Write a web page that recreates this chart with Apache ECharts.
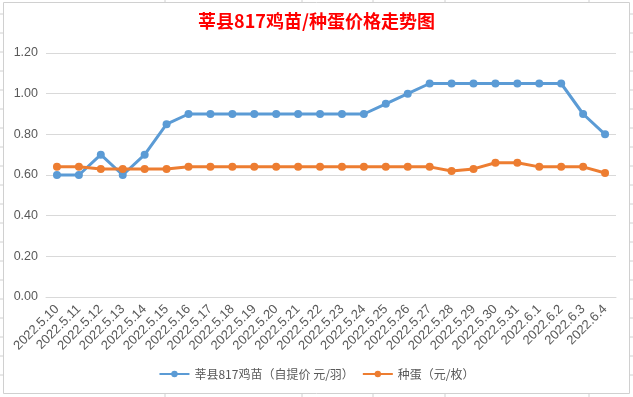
<!DOCTYPE html>
<html><head><meta charset="utf-8">
<script src="https://cdn.jsdelivr.net/npm/echarts@6/dist/echarts.min.js"></script>
<style>html,body{margin:0;padding:0;background:#fff}#c{width:633px;height:397px}</style>
</head><body><div id="c"></div>
<script>
const categories = ['2022.5.10','2022.5.11','2022.5.12','2022.5.13','2022.5.14','2022.5.15','2022.5.16','2022.5.17','2022.5.18','2022.5.19','2022.5.20','2022.5.21','2022.5.22','2022.5.23','2022.5.24','2022.5.25','2022.5.26','2022.5.27','2022.5.28','2022.5.29','2022.5.30','2022.5.31','2022.6.1','2022.6.2','2022.6.3','2022.6.4'];
const chickPrice = [0.60,0.60,0.70,0.60,0.70,0.85,0.90,0.90,0.90,0.90,0.90,0.90,0.90,0.90,0.90,0.95,1.00,1.05,1.05,1.05,1.05,1.05,1.05,1.05,0.90,0.80];
const eggPrice = [0.64,0.64,0.63,0.63,0.63,0.63,0.64,0.64,0.64,0.64,0.64,0.64,0.64,0.64,0.64,0.64,0.64,0.64,0.62,0.63,0.66,0.66,0.64,0.64,0.64,0.61];
const seriesNames = ['莘县817鸡苗（自提价 元/羽）','种蛋（元/枚）'];
const titleText = '莘县817鸡苗/种蛋价格走势图';

const chart = echarts.init(document.getElementById('c'));
const stubs = [];
const sc = '#d0d0d0';
[14,33,52,71,90,109,128,147,166,185,204,223,242,261,280,299,318,337,356,375].forEach(y=>{
  stubs.push({type:'line',shape:{x1:0,y1:y,x2:3,y2:y},style:{stroke:sc,lineWidth:1}});
  stubs.push({type:'line',shape:{x1:630,y1:y,x2:633,y2:y},style:{stroke:sc,lineWidth:1}});
});
[165,302,373,445,589].forEach(x=>{
  stubs.push({type:'line',shape:{x1:x,y1:0,x2:x,y2:2},style:{stroke:sc,lineWidth:1}});
  stubs.push({type:'line',shape:{x1:x,y1:394,x2:x,y2:397},style:{stroke:sc,lineWidth:1}});
});
stubs.push({type:'rect',shape:{x:3.5,y:2.5,width:626,height:391},style:{fill:'none',stroke:sc,lineWidth:1}});

chart.setOption({
  animation:false,
  backgroundColor:'#fff',
  graphic: stubs,
  title:{text:titleText,left:'center',top:7,textStyle:{color:'#ff0000',fontSize:18,fontWeight:'bold',fontFamily:'Noto Sans CJK SC'}},
  grid:{left:46,right:17,top:53,bottom:100},
  legend:{bottom:12,left:'center',itemWidth:30,itemHeight:8,itemGap:8,
    textStyle:{color:'#595959',fontSize:12,fontFamily:'Noto Sans CJK SC'},
    data:seriesNames},
  xAxis:{type:'category',data:categories,boundaryGap:true,
    axisLine:{lineStyle:{color:'#d9d9d9'}},axisTick:{show:false},
    axisLabel:{rotate:45,interval:0,color:'#595959',fontSize:13,margin:10,fontFamily:'Liberation Sans, sans-serif'}},
  yAxis:{type:'value',min:0,max:1.2,interval:0.2,
    axisLine:{show:false},axisTick:{show:false},
    splitLine:{lineStyle:{color:'#d9d9d9'}},
    axisLabel:{color:'#595959',fontSize:12.5,margin:8,formatter:v=>v.toFixed(2),fontFamily:'Liberation Sans, sans-serif'}},
  series:[
    {name:seriesNames[0],type:'line',data:chickPrice,color:'#5b9bd5',symbol:'circle',symbolSize:8,lineStyle:{width:3,color:'#5b9bd5'},itemStyle:{color:'#5b9bd5'}},
    {name:seriesNames[1],type:'line',data:eggPrice,color:'#ed7d31',symbol:'circle',symbolSize:8,lineStyle:{width:3,color:'#ed7d31'},itemStyle:{color:'#ed7d31'}}
  ]
});
</script></body></html>
